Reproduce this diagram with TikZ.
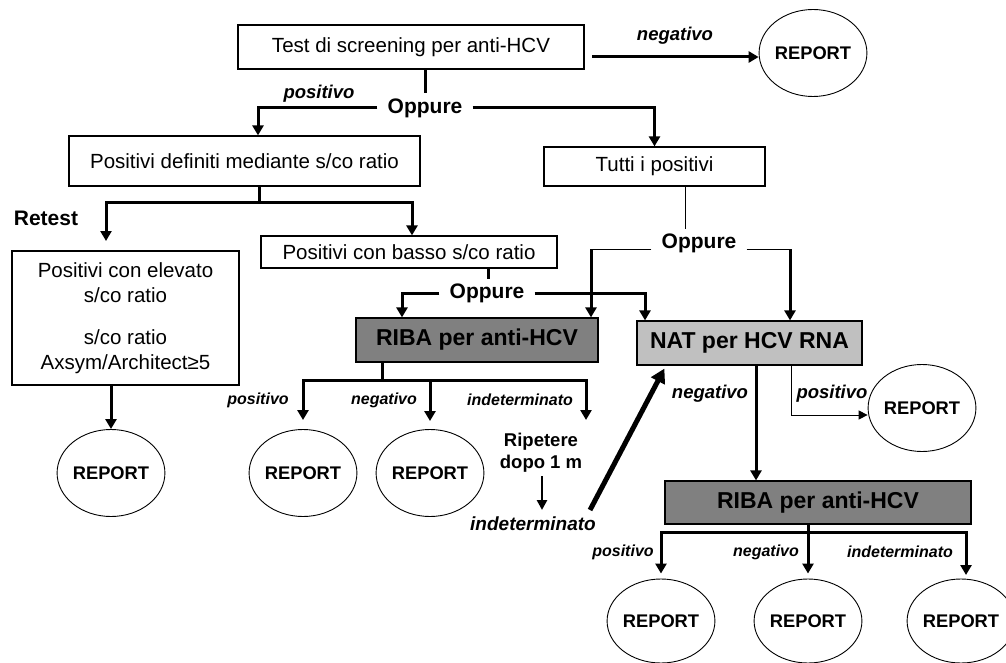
\documentclass[tikz,border=0pt]{standalone}
\usepackage{fontspec}
\setmainfont{Liberation Sans}
\usetikzlibrary{arrows.meta,shapes.geometric}
\begin{document}
\begin{tikzpicture}[x=1pt,y=-1pt,
 box/.style={draw, line width=1.2pt, inner sep=0pt, align=center, font=\fontsize{20.5}{25}\selectfont},
 bigbox/.style={box, font=\bfseries\fontsize{23}{26}\selectfont},
 rep/.style={draw, ellipse, line width=0.9pt, minimum width=96pt, minimum height=87pt, inner sep=0pt, font=\bfseries\fontsize{18.3}{20}\selectfont},
 lab/.style={font=\bfseries\itshape\fontsize{18.5}{20}\selectfont, inner sep=0pt},
 slab/.style={font=\bfseries\itshape\fontsize{16}{18}\selectfont, inner sep=0pt},
 opp/.style={font=\bfseries\fontsize{21}{24}\selectfont, inner ysep=0pt, inner xsep=10pt},
 thk/.style={line width=3pt},
 arr/.style={thk, -{Triangle[width=11pt,length=10pt]}},
 thn/.style={line width=1pt},
 tarr/.style={thn, -{Triangle[width=9pt,length=9pt]}},
]
\useasboundingbox (0,0) rectangle (1006,663);
\definecolor{dgray}{RGB}{128,128,128}
\definecolor{lgray}{RGB}{192,192,192}

% top
\node[box, minimum width=346pt, minimum height=44pt] (test) at (411,47) {Test di screening per anti-HCV};
\node[rep] (r0) at (813,53) {REPORT};
\node[lab] (lneg0) at (675,36) {negativo};
\coordinate (n0s) at (592,57);
\draw[arr] (n0s) -- (n0s -| r0.west);

\node[opp] (o1) at (425,108) {Oppure};
\node[lab] (lpos0) at (319,94) {positivo};
\draw[thk] (test.south -| o1) -- ([yshift=5pt]o1.north);

\node[box, minimum width=351pt, minimum height=50pt] (pd) at (244.5,161) {Positivi definiti mediante s/co ratio};
\node[box, minimum width=221pt, minimum height=39pt] (tutti) at (654.5,166.5) {Tutti i positivi};
\draw[arr] (o1.west) -| ([xshift=13.5pt]pd.north);
\draw[arr] (o1.east) -| (tutti.north);

% second level left
\coordinate (b1) at (259,203);
\coordinate (a1) at (106,241);
\draw[thk] (pd.south -| b1) -- (b1);
\node[font=\bfseries\fontsize{21}{24}\selectfont] (retest) at (46,218) {Retest};
\node[box, minimum width=227pt, minimum height=134pt] (elev) at (125.5,318) {Positivi con elevato\\ s/co ratio\\[17pt] s/co ratio\\ Axsym/Architect≥5};
\node[box, minimum width=296pt, minimum height=32pt] (basso) at (409,252) {Positivi con basso s/co ratio};
\draw[arr] (b1) -| (a1);
\draw[arr] (b1) -| ([xshift=3pt]basso.north);

\node[rep] (r1) at (111,473) {REPORT};
\draw[arr] (elev.south -| r1) -- (r1.north);

% Oppure 2
\node[opp] (o2) at (487,293) {Oppure};
\draw[thk] (basso.south -| 488,0) -- ([yshift=4pt]o2.north -| 488,0);
\node[bigbox, fill=dgray, minimum width=242pt, minimum height=44pt] (riba1) at (477,340) {RIBA per anti-HCV};
\node[bigbox, fill=lgray, minimum width=225pt, minimum height=44pt] (nat) at (749.5,343) {NAT per HCV RNA};
\draw[arr] (o2.west) -| ([xshift=-75pt]riba1.north);
\draw[arr] (o2.east) -| ([xshift=-104.5pt]nat.north);

% Oppure 3
\node[opp] (o3) at (699,243) {Oppure};
\draw[thn] ([xshift=30.5pt]tutti.south) -- ++(0,42);
\coordinate (c3l) at (591,249);
\coordinate (c3r) at (790,249);
\draw[thn] ([yshift=-6pt]o3.west) -- (c3l);
\draw[thn] ([yshift=-6pt]o3.east) -- (c3r);
\draw[arr] (c3l) -- (c3l |- riba1.north);
\draw[arr] (c3r) -- (c3r |- nat.north);

% RIBA 1 outputs
\coordinate (h1) at (382,380);
\coordinate (ind1) at (586,420);
\node[rep] (r2) at (303,473) {REPORT};
\node[rep] (r3) at (430,473) {REPORT};
\draw[thk] (h1 |- riba1.south) -- (h1);
\draw[arr, shorten >=9pt] (h1) -| (r2.north);
\draw[arr, shorten >=8pt] (h1) -| (r3.north);
\draw[arr] (h1) -| (ind1);
\node[slab] (lp1) at (258,400) {positivo};
\node[slab] (ln1) at (384,400) {negativo};
\node[slab] (li1) at (520,400) {indeterminato};

\node[font=\bfseries\fontsize{18.5}{22}\selectfont, align=center, inner sep=0pt] (rip) at (541,453) {Ripetere\\dopo 1 m};
\node[font=\bfseries\itshape\fontsize{19}{22}\selectfont, inner sep=0pt] (ind2) at (533,524) {indeterminato};
\coordinate (ra) at (542,476);
\coordinate (rb) at (542,510);
\draw[line width=2.6pt, -{Triangle[width=10pt,length=10pt]}] (ra) -- (rb);
\coordinate (d0) at (590,510);
\draw[line width=5pt, -{Triangle[width=15pt,length=14pt]}] (d0) -- ([xshift=28pt,yshift=-3pt]nat.south west);

% NAT outputs
\node[rep] (r4) at (922,408) {REPORT};
\node[bigbox, fill=dgray, minimum width=306pt, minimum height=43pt] (riba2) at (818,502.5) {RIBA per anti-HCV};
\draw[arr] ([xshift=6.5pt]nat.south) -- ([xshift=6.5pt]nat.south |- riba2.north);
\node[lab] (ln2) at (710,394) {negativo};
\coordinate (p4) at (791,415);
\draw[tarr] (p4 |- nat.south) -- (p4) -- (p4 -| r4.west);
\node[lab] (lp2) at (832,394) {positivo};

% RIBA 2 outputs
\node[rep, minimum height=84pt, minimum width=100pt] (r5) at (661,621) {REPORT};
\node[rep, minimum height=84pt, minimum width=98pt] (r6) at (808,621) {REPORT};
\node[rep, minimum height=84pt, minimum width=94pt] (r7) at (961,621) {REPORT};
\coordinate (h2) at (808,532);
\coordinate (a7) at (966,575);
\draw[thk] (h2 |- riba2.south) -- (h2);
\draw[arr, shorten >=5pt] (h2) -| (r5.north);
\draw[arr, shorten >=5pt] (h2) -- (r6.north);
\draw[arr] (h2) -| (a7);
\node[slab] (lp3) at (623,552) {positivo};
\node[slab] (ln3) at (766,552) {negativo};
\node[slab] (li3) at (900,552) {indeterminato};
\end{tikzpicture}
\end{document}
